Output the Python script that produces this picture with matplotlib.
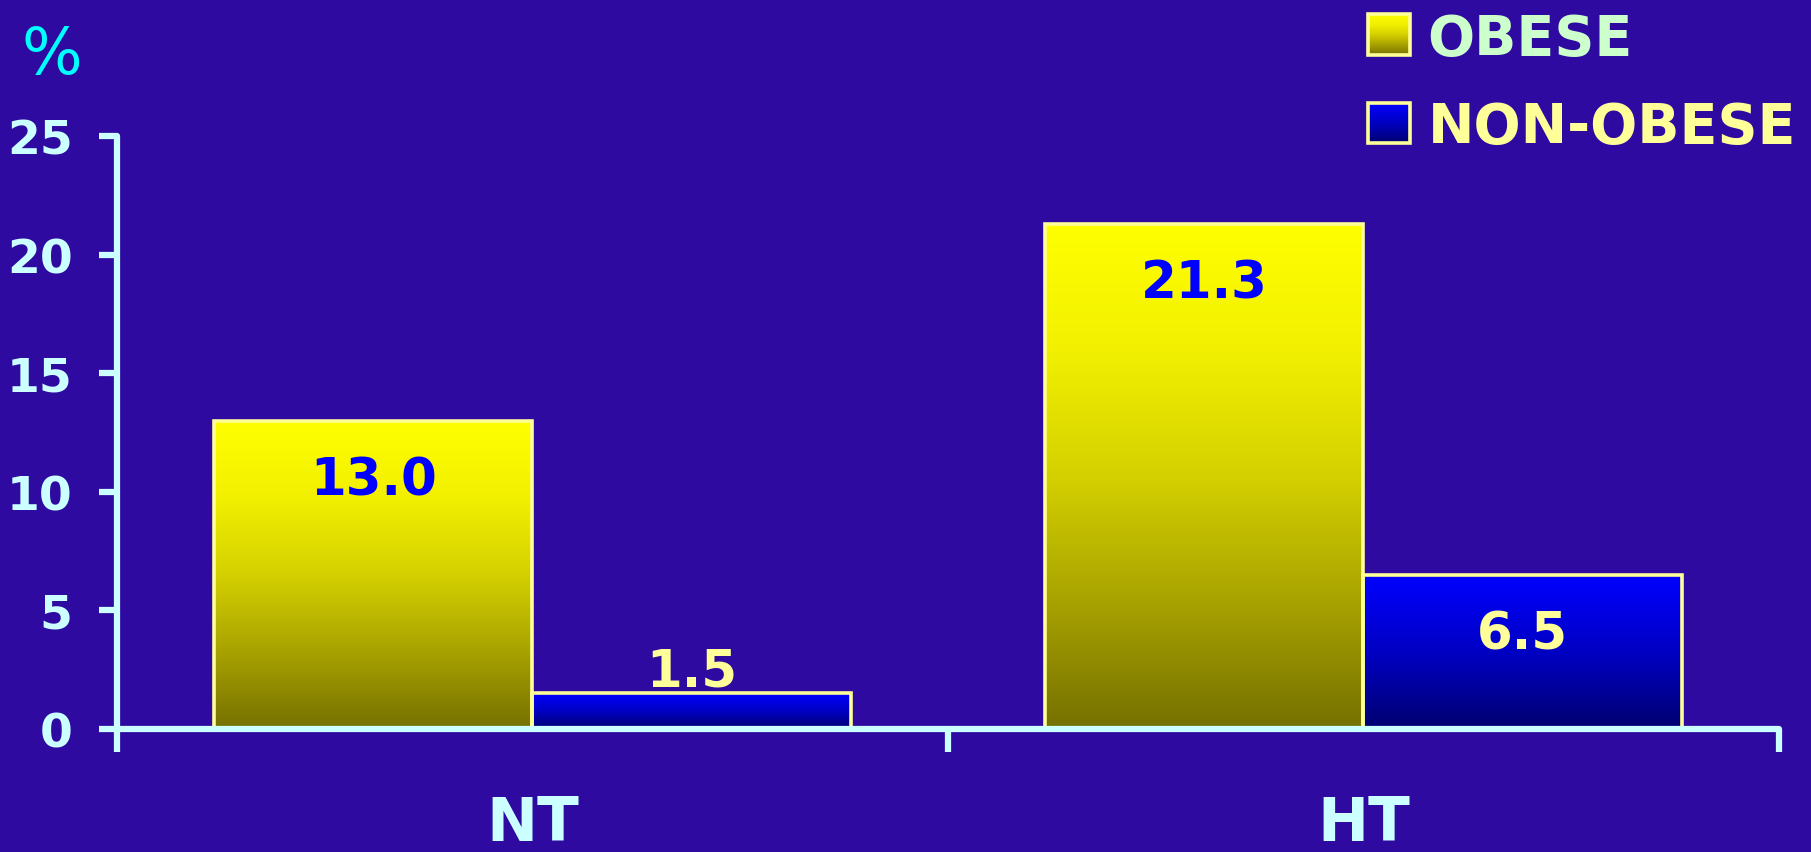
import numpy as np
import matplotlib
matplotlib.use('Agg')
import matplotlib.pyplot as plt
from matplotlib.colors import LinearSegmentedColormap
from matplotlib.patches import Rectangle
from matplotlib.image import BboxImage
from matplotlib.transforms import Bbox, TransformedBbox
from matplotlib.legend_handler import HandlerBase

# Datos
groups = ['NT', 'HT']
series = ['OBESE', 'NON-OBESE']
obese = [13.0, 21.3]
non_obese = [1.5, 6.5]
y_ticks = [0, 5, 10, 15, 20, 25]

# Colores
bg = '#2E0AA0'
axis_col = '#CCFFFF'
edge_col = '#FFFF99'
cmap_obese = LinearSegmentedColormap.from_list(
    'ob', [(0, '#757100'), (0.25, '#A8A200'), (0.5, '#D4D000'), (0.75, '#F2F000'), (1, '#FFFF00')])
cmap_non = LinearSegmentedColormap.from_list(
    'nob', [(0, '#000070'), (0.5, '#0000C4'), (1, '#0000FF')])
label_cols = ['#0000FF', '#FFFF99']
legend_text_cols = ['#CCFFCC', '#FFFF99']

plt.rcParams['font.family'] = 'DejaVu Sans'

fig = plt.figure(figsize=(18.11, 8.53), dpi=100, facecolor=bg)
ax = fig.add_axes([0.0646, 0.1442, 0.9177, 0.6952])
ax.set_facecolor(bg)

grad = np.linspace(0, 1, 256).reshape(-1, 1)
width = 0.383
x = np.arange(len(groups)) + 0.5

for vals, cmap, off, lcol in [(obese, cmap_obese, -width / 2, label_cols[0]),
                              (non_obese, cmap_non, width / 2, label_cols[1])]:
    for xi, v in zip(x, vals):
        x0 = xi + off - width / 2
        ax.imshow(grad, cmap=cmap, origin='lower', aspect='auto',
                  extent=(x0, x0 + width, 0, v), zorder=1, interpolation='bilinear')
        ax.bar(xi + off, v, width, fill=False, edgecolor=edge_col, linewidth=2.6, zorder=2)
        if v > 3:
            ax.text(xi + off, v - 2.3, f'{v:.1f}', ha='center', va='center_baseline',
                    fontsize=37, fontweight='bold', color=lcol, zorder=3)
        else:
            ax.text(xi + off, v + 1.15, f'{v:.1f}', ha='center', va='center_baseline',
                    fontsize=37, fontweight='bold', color=lcol, zorder=3)

ax.set_xlim(0, 2)
ax.set_ylim(0, 25)

# Ejes
for s in ['top', 'right']:
    ax.spines[s].set_visible(False)
for s in ['left', 'bottom']:
    ax.spines[s].set_color(axis_col)
    ax.spines[s].set_linewidth(4.5)
    ax.spines[s].set_capstyle('round')
    ax.spines[s].set_zorder(4)

ax.set_yticks(y_ticks)
ax.tick_params(axis='y', colors=axis_col, length=13, width=4.5, pad=19,
               labelsize=34)
for t in ax.get_yticklabels():
    t.set_fontweight('bold')

ax.set_xticks([0, 1, 2])
ax.set_xticklabels(['', '', ''])
ax.tick_params(axis='x', which='major', colors=axis_col, length=16.5, width=4.5)
ax.set_xticks(x, minor=True)
ax.set_xticklabels(groups, minor=True)
ax.tick_params(axis='x', which='minor', length=0, pad=47, labelsize=44,
               labelcolor=axis_col)
for t in ax.get_xticklabels(minor=True):
    t.set_fontweight('bold')

fig.text(52 / 1811, 1 - 56 / 853, '%', ha='center', va='center',
         fontsize=46, color='#00FFFF')


# Leyenda con degradado
class GradHandler(HandlerBase):
    def __init__(self, cmap):
        super().__init__()
        self.cmap = cmap

    def create_artists(self, legend, orig_handle, xdescent, ydescent,
                       width, height, fontsize, trans):
        bb = TransformedBbox(Bbox.from_bounds(-xdescent, -ydescent, width, height), trans)
        im = BboxImage(bb, cmap=self.cmap, origin='lower', interpolation='bilinear')
        im.set_data(grad)
        r = Rectangle((-xdescent, -ydescent), width, height, facecolor='none',
                      edgecolor=edge_col, linewidth=2.6, transform=trans)
        return [im, r]


h1 = Rectangle((0, 0), 1, 1)
h2 = Rectangle((0, 0), 1, 1)
leg = fig.legend([h1, h2], series, loc='upper left',
                 bbox_to_anchor=(1368 / 1811, 1 - 13 / 853),
                 frameon=False, borderpad=0, borderaxespad=0,
                 handlelength=0.75, handleheight=0.75, handletextpad=0.32,
                 labelspacing=0.62,
                 prop={'size': 40, 'weight': 'bold'},
                 handler_map={h1: GradHandler(cmap_obese), h2: GradHandler(cmap_non)})
for t, c in zip(leg.get_texts(), legend_text_cols):
    t.set_color(c)

fig.savefig('out.png', dpi=100, facecolor=bg)
